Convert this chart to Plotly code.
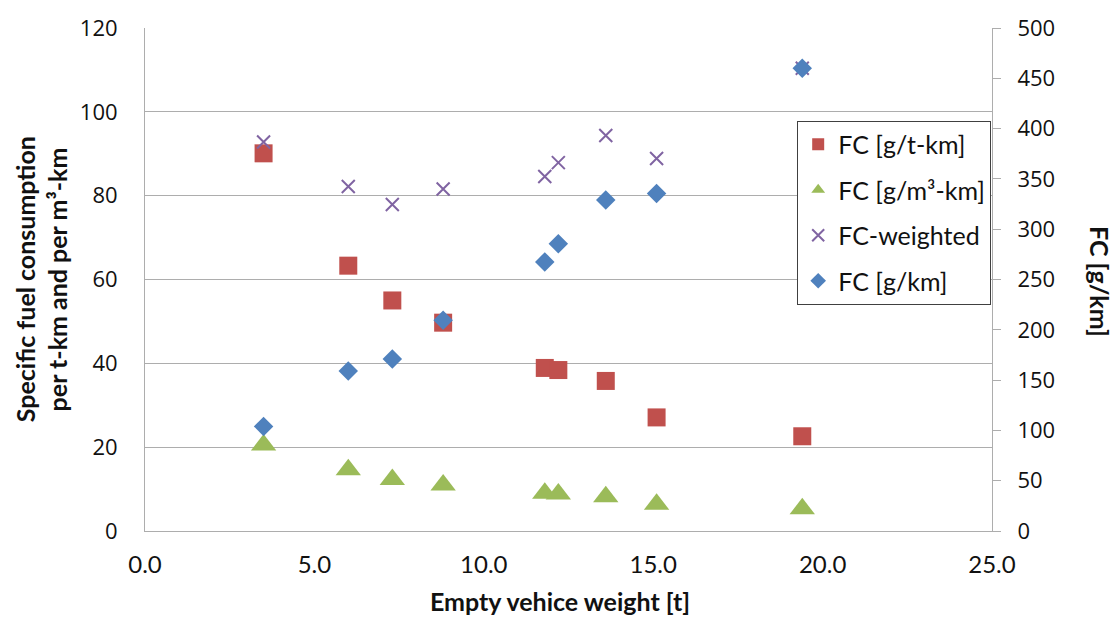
import plotly.graph_objects as go

# Empty vehicle weight [t]
weight = [3.5, 6.0, 7.3, 8.8, 11.8, 12.2, 13.6, 15.1, 19.4]

# Specific fuel consumption (left axis)
fc_tkm = [90.1, 63.3, 55.0, 49.7, 38.9, 38.4, 35.8, 27.1, 22.6]
fc_m3km = [20.5, 14.6, 12.3, 11.0, 9.0, 8.8, 8.2, 6.4, 5.3]

# Fuel consumption per km (right axis)
fc_weighted = [386.7, 342.5, 324.5, 340.0, 352.4, 366.2, 393.2, 370.2, 460.0]
fc_km = [104.0, 159.0, 171.0, 209.6, 267.5, 285.6, 329.0, 335.6, 460.0]

x_ticks = [0, 5, 10, 15, 20, 25]
x_tick_text = ["0.0", "5.0", "10.0", "15.0", "20.0", "25.0"]

GRID = "#ADADAD"
INK = "#111111"
TICK_FONT = dict(family="Open Sans", size=22, color=INK)
TITLE_FONT = dict(family="Lato", size=25, color=INK)

fig = go.Figure()

fig.add_trace(go.Scatter(
    x=weight, y=fc_tkm, mode="markers", name="FC [g/t-km]",
    legendgroup="a",
    marker=dict(symbol="square", size=18, color="#C0504D"),
))
fig.add_trace(go.Scatter(
    x=weight, y=fc_m3km, mode="markers", name="FC [g/m³-km]",
    legendgroup="b",
    marker=dict(symbol="triangle-up", size=22, color="#9BBB59"),
))
fig.add_trace(go.Scatter(
    x=weight, y=fc_weighted, mode="markers", name="FC-weighted",
    legendgroup="c", yaxis="y2",
    marker=dict(symbol="x-thin", size=13, color="#8064A2",
                line=dict(width=2, color="#8064A2")),
))
fig.add_trace(go.Scatter(
    x=weight, y=fc_km, mode="markers", name="FC [g/km]",
    legendgroup="d", yaxis="y2",
    marker=dict(symbol="diamond", size=15, color="#4F81BD"),
))

fig.update_layout(
    width=1115, height=618,
    margin=dict(l=145, r=123, t=24, b=87),
    paper_bgcolor="white", plot_bgcolor="white",
    showlegend=True,
    legend=dict(
        x=0.77, y=0.816, xanchor="left", yanchor="top",
        bgcolor="white", bordercolor="#404040", borderwidth=1,
        font=dict(family="Lato", size=25, color=INK),
        tracegroupgap=10,
        itemsizing="constant",
    ),
    xaxis=dict(
        range=[0, 25], tickvals=x_ticks, ticktext=x_tick_text,
        showgrid=False, zeroline=False,
        showline=True, linecolor=GRID, linewidth=1,
        ticks="", tickfont=dict(family="Lato", size=24, color=INK),
        ticklabelstandoff=12,
    ),
    yaxis=dict(
        range=[0, 120], dtick=20,
        showgrid=True, gridcolor=GRID, gridwidth=1, zeroline=False,
        showline=True, linecolor=GRID, linewidth=1,
        ticks="", tickfont=TICK_FONT, ticklabelstandoff=22,
    ),
    yaxis2=dict(
        range=[0, 500], dtick=50, overlaying="y", side="right",
        showgrid=False, zeroline=False,
        showline=True, linecolor=GRID, linewidth=1,
        ticks="outside", ticklen=8, tickcolor=GRID,
        tickfont=TICK_FONT, ticklabelstandoff=12,
    ),
    annotations=[
        dict(text="<b>Empty vehice weight [t]</b>", xref="paper", yref="paper",
             x=0.49, y=-0.139, xanchor="center", yanchor="middle",
             showarrow=False, font=TITLE_FONT),
        dict(text="<b>Specific fuel consumption</b>", xref="paper", yref="paper",
             x=-0.142, y=0.5, xanchor="center", yanchor="middle",
             textangle=-90, showarrow=False, font=TITLE_FONT),
        dict(text="<b>per t-km and per m³-km</b>", xref="paper", yref="paper",
             x=-0.104, y=0.5, xanchor="center", yanchor="middle",
             textangle=-90, showarrow=False, font=TITLE_FONT),
        dict(text="<b>FC [g/km]</b>", xref="paper", yref="paper",
             x=1.1275, y=0.495, xanchor="center", yanchor="middle",
             textangle=90, showarrow=False, font=TITLE_FONT),
    ],
)

fig.write_html("out.html")
